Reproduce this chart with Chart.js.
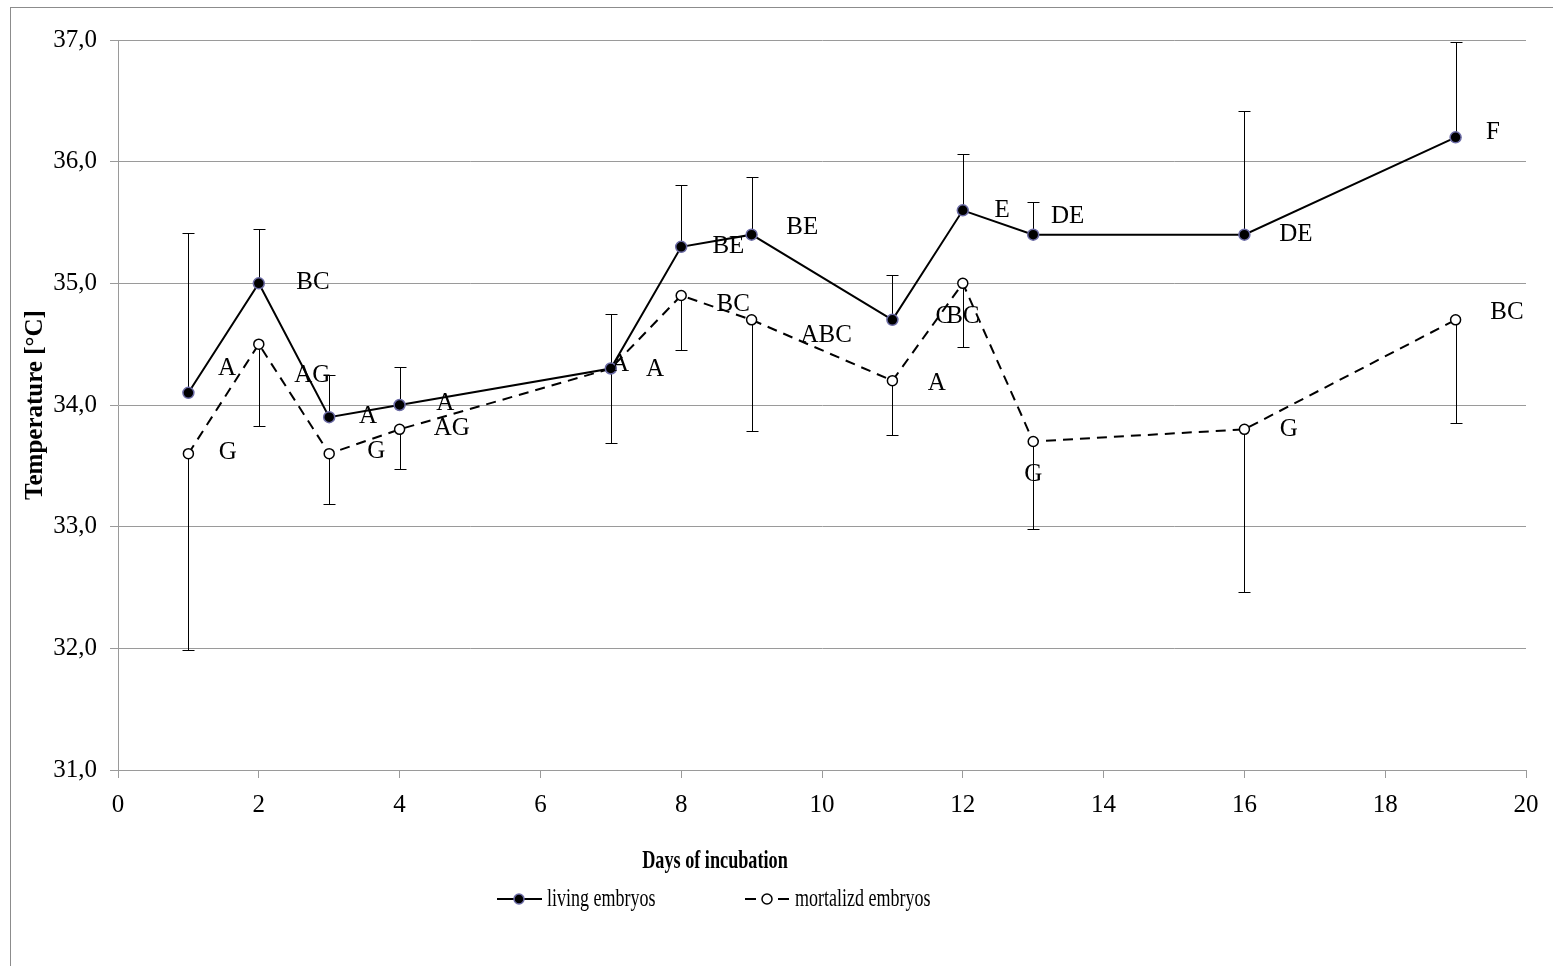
<!DOCTYPE html>
<html>
<head>
<meta charset="utf-8">
<script src="https://cdn.jsdelivr.net/npm/chart.js@4.4.1/dist/chart.umd.min.js"></script>
<style>
  html, body { margin: 0; padding: 0; background: #fff; }
  #wrap { position: relative; width: 1553px; height: 966px; }
</style>
</head>
<body>
<div id="wrap"><canvas id="chart"></canvas></div>
<script>
const days = [1, 2, 3, 4, 7, 8, 9, 11, 12, 13, 16, 19];
const living = [34.1, 35.0, 33.9, 34.0, 34.3, 35.3, 35.4, 34.7, 35.6, 35.4, 35.4, 36.2];
const mortal = [33.6, 34.5, 33.6, 33.8, 34.3, 34.9, 34.7, 34.2, 35.0, 33.7, 33.8, 34.7];
// error bars: living upward, mortalized downward
const livingUpper = [35.41, 35.45, 34.25, 34.31, 34.75, 35.81, 35.87, 35.07, 36.06, 35.67, 36.42, 36.98];
const mortalLower = [31.99, 33.83, 33.19, 33.47, 33.69, 34.45, 33.79, 33.75, 34.48, 32.98, 32.46, 33.85];

// significance letters, placed in data units
const livingLetters = ["A", "BC", "A", "A", "A", "BE", "BE", "C", "E", "DE", "DE", "F"];
const livingLetterX = [1.55, 2.77, 3.55, 4.65, 7.13, 8.67, 9.72, 11.73, 12.56, 13.49, 16.73, 19.53];
const livingLetterY = [34.30, 35.01, 33.91, 34.01, 34.33, 35.30, 35.46, 34.73, 35.60, 35.55, 35.40, 36.24];
const mortalLetters = ["G", "AG", "G", "AG", "A", "BC", "ABC", "A", "BC", "G", "G", "BC"];
const mortalLetterX = [1.56, 2.76, 3.67, 4.74, 7.63, 8.74, 10.06, 11.63, 12.00, 13.00, 16.63, 19.73];
const mortalLetterY = [33.61, 34.24, 33.62, 33.81, 34.29, 34.83, 34.57, 34.18, 34.73, 33.43, 33.80, 34.76];

const xTicks = { min: 0, max: 20, step: 2 };
const yTicks = { min: 31, max: 37, step: 1 };

const SERIF = '"Liberation Serif", "Times New Roman", serif';
const GRID = "#9a9a9a";
const LIVING_EDGE = "#6c6ca6";

const toPts = (ys) => days.map((d, i) => ({ x: d, y: ys[i] }));

const errorBars = {
  id: "errorBars",
  beforeDatasetsDraw(chart) {
    const { ctx, scales: { x, y } } = chart;
    ctx.save();
    ctx.strokeStyle = "#000";
    ctx.lineWidth = 1;
    const bar = (d, from, to) => {
      const px = Math.round(x.getPixelForValue(d)) + 0.5;
      const p1 = y.getPixelForValue(from), p2 = Math.round(y.getPixelForValue(to)) + 0.5;
      ctx.beginPath();
      ctx.moveTo(px, p1); ctx.lineTo(px, p2);
      ctx.moveTo(px - 6, p2); ctx.lineTo(px + 6, p2);
      ctx.stroke();
    };
    days.forEach((d, i) => {
      bar(d, living[i], livingUpper[i]);
      bar(d, mortal[i], mortalLower[i]);
    });
    ctx.restore();
  }
};

const letters = {
  id: "letters",
  afterDatasetsDraw(chart) {
    const { ctx, scales: { x, y } } = chart;
    ctx.save();
    ctx.font = "25px " + SERIF;
    ctx.fillStyle = "#000";
    ctx.textAlign = "center";
    ctx.textBaseline = "middle";
    const put = (txt, xs, ys) => txt.forEach((t, i) =>
      ctx.fillText(t, x.getPixelForValue(xs[i]), y.getPixelForValue(ys[i])));
    put(livingLetters, livingLetterX, livingLetterY);
    put(mortalLetters, mortalLetterX, mortalLetterY);
    ctx.restore();
  }
};

// x title, legend and outer frame, drawn the way the spreadsheet placed them
const frame = {
  id: "frame",
  afterDraw(chart) {
    const { ctx } = chart;
    ctx.save();
    ctx.strokeStyle = "#8c8c8c";
    ctx.lineWidth = 1;
    ctx.strokeRect(10.5, 7.5, 1700, 1100);

    const condensed = (txt, x0, y0, font, sx) => {
      ctx.save();
      ctx.font = font;
      ctx.translate(x0, y0);
      ctx.scale(sx, 1);
      ctx.fillText(txt, 0, 0);
      ctx.restore();
    };
    ctx.fillStyle = "#000";
    ctx.textBaseline = "middle";
    ctx.textAlign = "center";
    condensed("Days of incubation", 715, 861, "bold 26px " + SERIF, 0.7);

    const ly = 899;
    ctx.textAlign = "left";
    // living embryos
    ctx.strokeStyle = "#000";
    ctx.lineWidth = 2;
    ctx.setLineDash([]);
    ctx.beginPath(); ctx.moveTo(497, ly); ctx.lineTo(542, ly); ctx.stroke();
    ctx.beginPath(); ctx.arc(519, ly, 5, 0, Math.PI * 2);
    ctx.fillStyle = "#000"; ctx.fill();
    ctx.lineWidth = 1.5; ctx.strokeStyle = LIVING_EDGE; ctx.stroke();
    ctx.fillStyle = "#000";
    condensed("living embryos", 547, ly, "25px " + SERIF, 0.72);
    // mortalizd embryos
    ctx.strokeStyle = "#000";
    ctx.lineWidth = 2;
    ctx.beginPath();
    ctx.moveTo(745, ly); ctx.lineTo(756, ly);
    ctx.moveTo(778, ly); ctx.lineTo(789, ly);
    ctx.stroke();
    ctx.beginPath(); ctx.arc(767, ly, 5, 0, Math.PI * 2);
    ctx.fillStyle = "#fff"; ctx.fill();
    ctx.lineWidth = 1.5; ctx.stroke();
    ctx.fillStyle = "#000";
    condensed("mortalizd embryos", 795, ly, "25px " + SERIF, 0.72);
    ctx.restore();
  }
};

new Chart(document.getElementById("chart"), {
  type: "line",
  data: {
    datasets: [
      {
        label: "living embryos",
        data: toPts(living),
        borderColor: "#000",
        borderWidth: 2,
        pointRadius: 5.5,
        pointBackgroundColor: "#000",
        pointBorderColor: LIVING_EDGE,
        pointBorderWidth: 1.5,
        tension: 0
      },
      {
        label: "mortalizd embryos",
        data: toPts(mortal),
        borderColor: "#000",
        borderWidth: 2,
        borderDash: [10, 7],
        pointRadius: 5,
        pointBackgroundColor: "#fff",
        pointBorderColor: "#000",
        pointBorderWidth: 1.5,
        tension: 0
      }
    ]
  },
  options: {
    responsive: true,
    maintainAspectRatio: false,
    animation: false,
    layout: { padding: { left: 10, top: 40, right: 27, bottom: 0 } },
    plugins: { legend: { display: false }, tooltip: { enabled: false } },
    scales: {
      x: {
        type: "linear",
        min: xTicks.min,
        max: xTicks.max,
        ticks: { stepSize: xTicks.step, color: "#000", font: { family: SERIF, size: 25 }, padding: 12 },
        grid: { drawOnChartArea: false, drawTicks: true, tickLength: 8, color: GRID },
        border: { color: GRID },
        afterFit: (s) => { s.height = 196; }
      },
      y: {
        min: yTicks.min,
        max: yTicks.max,
        ticks: {
          stepSize: yTicks.step,
          color: "#000",
          font: { family: SERIF, size: 25 },
          padding: 13,
          callback: (v) => v.toFixed(1).replace(".", ",")
        },
        grid: { color: GRID, tickLength: 8 },
        border: { color: GRID },
        title: {
          display: true,
          text: "Temperature [°C]",
          color: "#000",
          font: { family: SERIF, size: 25, weight: "bold" },
          padding: { top: 11, bottom: 0 }
        },
        afterFit: (s) => { s.width = 108; }
      }
    }
  },
  plugins: [errorBars, letters, frame]
});
</script>
</body>
</html>
